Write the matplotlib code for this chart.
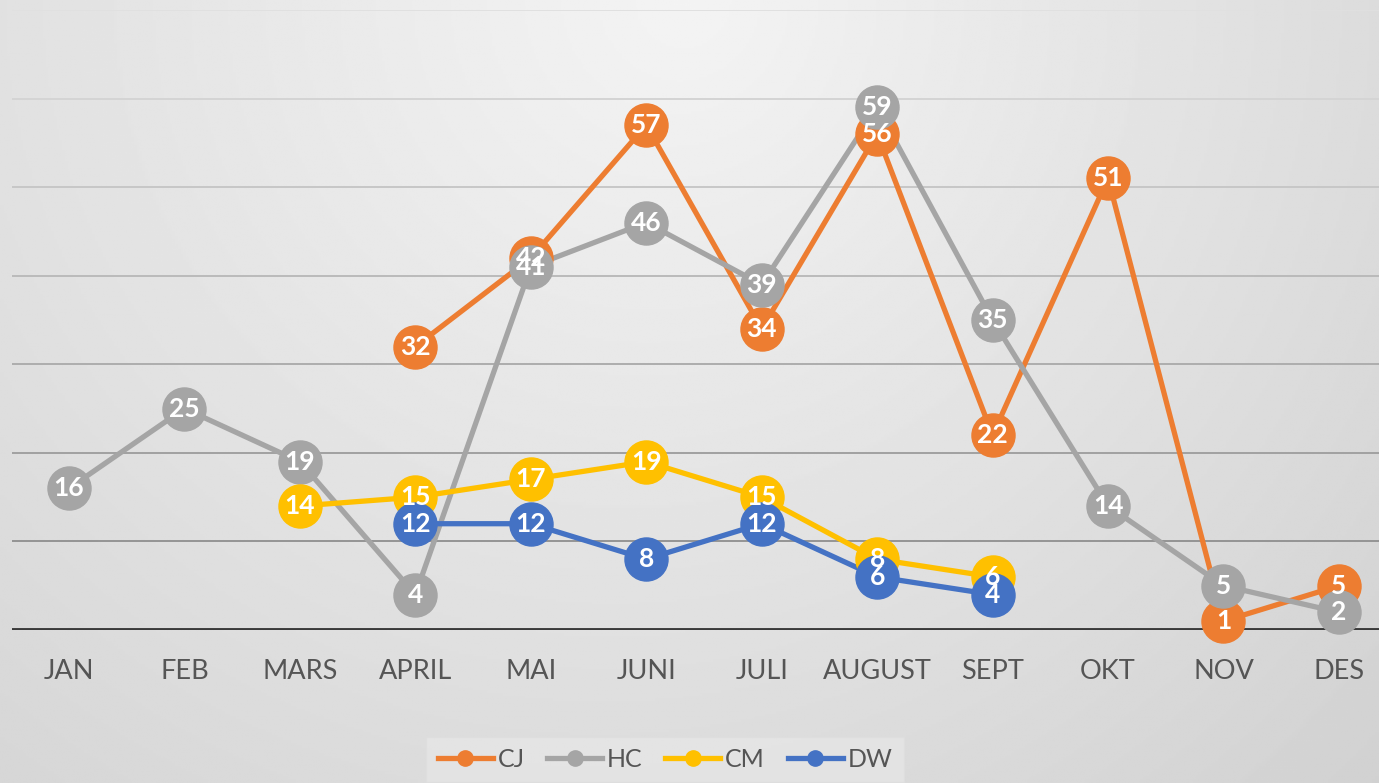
import numpy as np
import matplotlib
matplotlib.use("Agg")
import matplotlib.pyplot as plt
from matplotlib.lines import Line2D

nan = np.nan
months = ["JAN", "FEB", "MARS", "APRIL", "MAI", "JUNI", "JULI", "AUGUST", "SEPT", "OKT", "NOV", "DES"]
cj = [nan, nan, nan, 32, 42, 57, 34, 56, 22, 51, 1, 5]
hc = [16, 25, 19, 4, 41, 46, 39, 59, 35, 14, 5, 2]
cm = [nan, nan, 14, 15, 17, 19, 15, 8, 6, nan, nan, nan]
dw = [nan, nan, nan, 12, 12, 8, 12, 6, 4, nan, nan, nan]

series = [("CJ", cj, "#ED7D31"), ("HC", hc, "#A5A5A5"),
          ("CM", cm, "#FFC000"), ("DW", dw, "#4472C4")]

plt.rcParams['font.family'] = ['Lato', 'DejaVu Sans']

fig = plt.figure(figsize=(13.79, 7.83), dpi=100)

# radial-ish background gradient
bg = fig.add_axes([0, 0, 1, 1], zorder=-10)
yy, xx = np.mgrid[0:1:300j, 0:1:500j]
d = np.sqrt((xx - 0.5) ** 2 + (yy * 0.57) ** 2)
shade = 0.965 - 0.165 * d - 0.02 * xx
bg.imshow(shade, cmap="gray", vmin=0, vmax=1, aspect="auto",
          extent=(0, 1, 0, 1), origin="upper")
bg.axis("off")

ax = fig.add_axes([12 / 1379, 153 / 783, 1367 / 1379, 620 / 783])
ax.patch.set_alpha(0)
x = np.arange(len(months))

# gridlines, lighter towards the top
for k, g in enumerate(range(10, 80, 10)):
    c = 0.58 + 0.3 * (k / 6)
    ax.axhline(g, color=(c, c, c), lw=1.4, zorder=1)
ax.axhline(0, color="#3a3a3a", lw=2.8, zorder=1.5)

for i, (name, vals, col) in enumerate(series):
    v = np.array(vals, dtype=float)
    ax.plot(x, v, color=col, lw=3.8, zorder=2 + i * 0.1, solid_capstyle="round")
for i, (name, vals, col) in enumerate(series):
    v = np.array(vals, dtype=float)
    ax.plot(x, v, ls="none", marker="o", ms=31, color=col, mec=col,
            zorder=3 + i * 0.1, clip_on=False)
for name, vals, col in series:
    for xi, val in zip(x, vals):
        if not np.isnan(val):
            ax.text(xi, val, str(int(val)), ha="center", va="center", color="white",
                    fontsize=19, fontweight="bold", zorder=10)

ax.set_xlim(-0.494, 11.347)
ax.set_ylim(0, 70)
ax.set_xticks(x)
ax.set_xticklabels(months, fontsize=19.5, color="#555555")
ax.tick_params(axis="x", length=0, pad=21)
ax.set_yticks([])
for s in ax.spines.values():
    s.set_visible(False)

handles = [Line2D([0], [0], color=col, lw=3.8, marker="o", ms=11) for _, _, col in series]
leg = fig.legend(handles, [s[0] for s in series], loc="upper center",
                 bbox_to_anchor=(665 / 1379, 1 - 724 / 783), ncol=4, frameon=True,
                 fontsize=18, handlelength=2.2, handletextpad=0.2, columnspacing=0.9,
                 fancybox=False, borderpad=0.45)
leg.get_frame().set_facecolor("#e6e6e6")
leg.get_frame().set_edgecolor("#dedede")
for t in leg.get_texts():
    t.set_color("#555555")

fig.savefig("out.png", dpi=100)
